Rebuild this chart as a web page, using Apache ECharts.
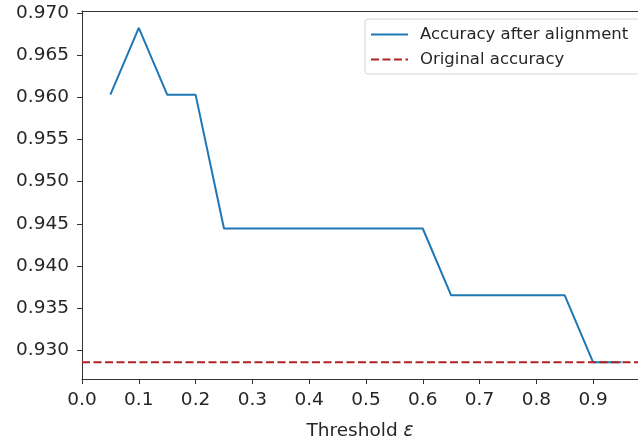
<!DOCTYPE html>
<html>
<head>
<meta charset="utf-8">
<script src="https://cdn.jsdelivr.net/npm/echarts@6/dist/echarts.min.js"></script>
<style>
html,body{margin:0;padding:0;background:#fff;}
#chart{width:638px;height:446px;}
</style>
</head>
<body>
<div id="chart"></div>
<script>
const thresholds = [0.05, 0.10, 0.15, 0.20, 0.25, 0.30, 0.35, 0.40, 0.45, 0.50, 0.55, 0.60, 0.65, 0.70, 0.75, 0.80, 0.85, 0.90, 0.95];
const accuracyAfter = [0.96032, 0.96825, 0.96032, 0.96032, 0.94444, 0.94444, 0.94444, 0.94444, 0.94444, 0.94444, 0.94444, 0.94444, 0.93651, 0.93651, 0.93651, 0.93651, 0.93651, 0.92857, 0.92857];
const originalAccuracy = 0.92857;
const xTicks = [0.0, 0.1, 0.2, 0.3, 0.4, 0.5, 0.6, 0.7, 0.8, 0.9];
const yTicks = [0.930, 0.935, 0.940, 0.945, 0.950, 0.955, 0.960, 0.965, 0.970];
const xRange = [0, 0.979];
const yRange = [0.92659, 0.97024];

const font = 'DejaVu Sans';
const textColor = '#262626';
const chart = echarts.init(document.getElementById('chart'), null, {renderer: 'canvas'});

chart.setOption({
  animation: false,
  backgroundColor: '#fff',
  grid: {left: 82, top: 11, right: 0, bottom: 67, show: false},
  legend: {
    left: 365, top: 19,
    orient: 'vertical',
    itemWidth: 37, itemHeight: 14, itemGap: 8,
    padding: [7, 40, 6, 5],
    backgroundColor: '#fff',
    borderColor: '#d5d5d5', borderWidth: 1, borderRadius: 3,
    itemStyle: {opacity: 0},
    textStyle: {fontFamily: font, fontSize: 16.5, color: textColor, padding: [0, 0, 0, 7]},
    data: ['Accuracy after alignment', 'Original accuracy']
  },
  xAxis: [{
    type: 'value',
    min: xRange[0], max: xRange[1],
    name: '{a|Threshold }{b|ε}',
    nameLocation: 'middle',
    nameGap: 43,
    nameTextStyle: {
      rich: {
        a: {fontFamily: font, fontSize: 18.5, color: textColor},
        b: {fontFamily: font, fontSize: 18.5, color: textColor, fontStyle: 'italic'}
      }
    },
    axisLine: {show: true, onZero: false, lineStyle: {color: '#333', width: 1}},
    axisTick: {show: true, length: 5, lineStyle: {color: '#333'}, customValues: xTicks},
    axisLabel: {
      fontFamily: font, fontSize: 18.5, color: textColor, margin: 12,
      customValues: xTicks,
      formatter: v => v.toFixed(1)
    },
    splitLine: {show: false}
  }, {
    type: 'value',
    position: 'top',
    min: xRange[0], max: xRange[1],
    axisLine: {show: true, onZero: false, lineStyle: {color: '#333', width: 1}},
    axisTick: {show: false},
    axisLabel: {show: false},
    splitLine: {show: false}
  }],
  yAxis: {
    type: 'value',
    min: yRange[0], max: yRange[1],
    axisLine: {show: true, onZero: false, lineStyle: {color: '#333', width: 1}},
    axisTick: {show: true, length: 5, lineStyle: {color: '#333'}, customValues: yTicks},
    axisLabel: {
      fontFamily: font, fontSize: 18.5, color: textColor, margin: 13,
      customValues: yTicks,
      formatter: v => v.toFixed(3)
    },
    splitLine: {show: false}
  },
  series: [
    {
      name: 'Accuracy after alignment',
      type: 'line',
      symbol: 'none',
      data: thresholds.map((t, i) => [t, accuracyAfter[i]]),
      lineStyle: {color: '#1f77b4', width: 2},
      itemStyle: {color: '#1f77b4'},
      z: 2
    },
    {
      name: 'Original accuracy',
      type: 'line',
      symbol: 'none',
      data: [[xRange[0], originalAccuracy], [xRange[1], originalAccuracy]],
      lineStyle: {color: '#b22222', width: 2, type: [8, 3.5]},
      itemStyle: {color: '#b22222'},
      z: 3
    }
  ]
});
</script>
</body>
</html>
